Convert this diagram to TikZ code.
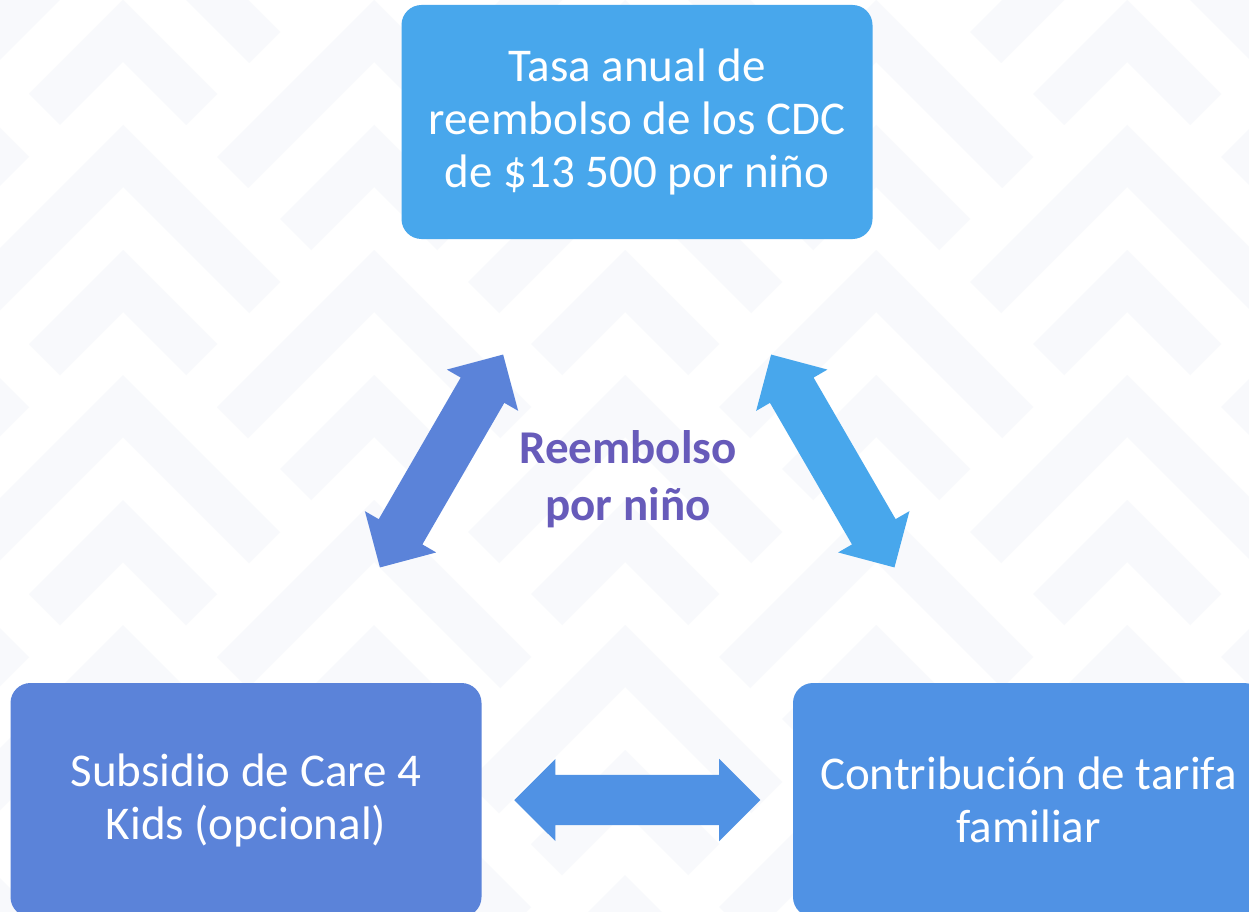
\documentclass[tikz,border=0pt]{standalone}
\usepackage{fontspec}
\setmainfont{Carlito}
\usetikzlibrary{positioning,shapes.arrows}

\definecolor{topblue}{RGB}{72,167,236}
\definecolor{kidsblue}{RGB}{91,131,217}
\definecolor{famblue}{RGB}{80,146,228}
\definecolor{labelpurple}{RGB}{103,91,186}
\definecolor{chevron}{RGB}{248,249,252}

\begin{document}
\begin{tikzpicture}[x=1pt,y=-1pt,
    box/.style={rectangle,rounded corners=20pt,minimum width=471pt,minimum height=234pt,
                text=white,align=center,font=\fontsize{47}{53}\selectfont},
    dblarrow/.style={double arrow,double arrow head extend=16pt,inner xsep=0pt,inner ysep=25pt,
                minimum height=246pt,sloped,fill=#1}]
  \useasboundingbox (0,0) rectangle (1249,912);
  \clip (0,0) rectangle (1249,912);
  \fill[white] (0,0) rectangle (1249,912);
  % background chevrons
  \foreach \i in {-1,...,5}
    \foreach \j in {-1,...,8}{
      \pgfmathsetmacro\armlen{ifthenelse(mod(\i+\j+10,2)==1,157,94)}
      \fill[chevron] ({123+251*\i},{125*\j}) -- ++(\armlen,\armlen) -- ++(-31,31)
        -- ++({31-\armlen},{31-\armlen}) -- ++({31-\armlen},{\armlen-31}) -- ++(-31,-31) -- cycle;
    }

  \node[box,fill=topblue] (cdc) at (637,122) {Tasa anual de\\reembolso de los CDC\\de \$13 500 por niño};
  \node[box,fill=kidsblue,on grid,below left=678pt and 391pt of cdc] (kids) {Subsidio de Care 4\\Kids (opcional)};
  \node[box,fill=famblue,on grid,right=782.5pt of kids] (fam) {Contribución de tarifa\\familiar};

  \node[font=\bfseries\fontsize{47}{57}\selectfont,text=labelpurple,align=center] (reemb) at (628,479) {Reembolso\\por niño};

  \path (kids) -- node[dblarrow=kidsblue] {} (cdc);
  \path (cdc) -- node[dblarrow=topblue] {} (fam);
  \path (kids) -- node[dblarrow=famblue] {} (fam);
\end{tikzpicture}
\end{document}
